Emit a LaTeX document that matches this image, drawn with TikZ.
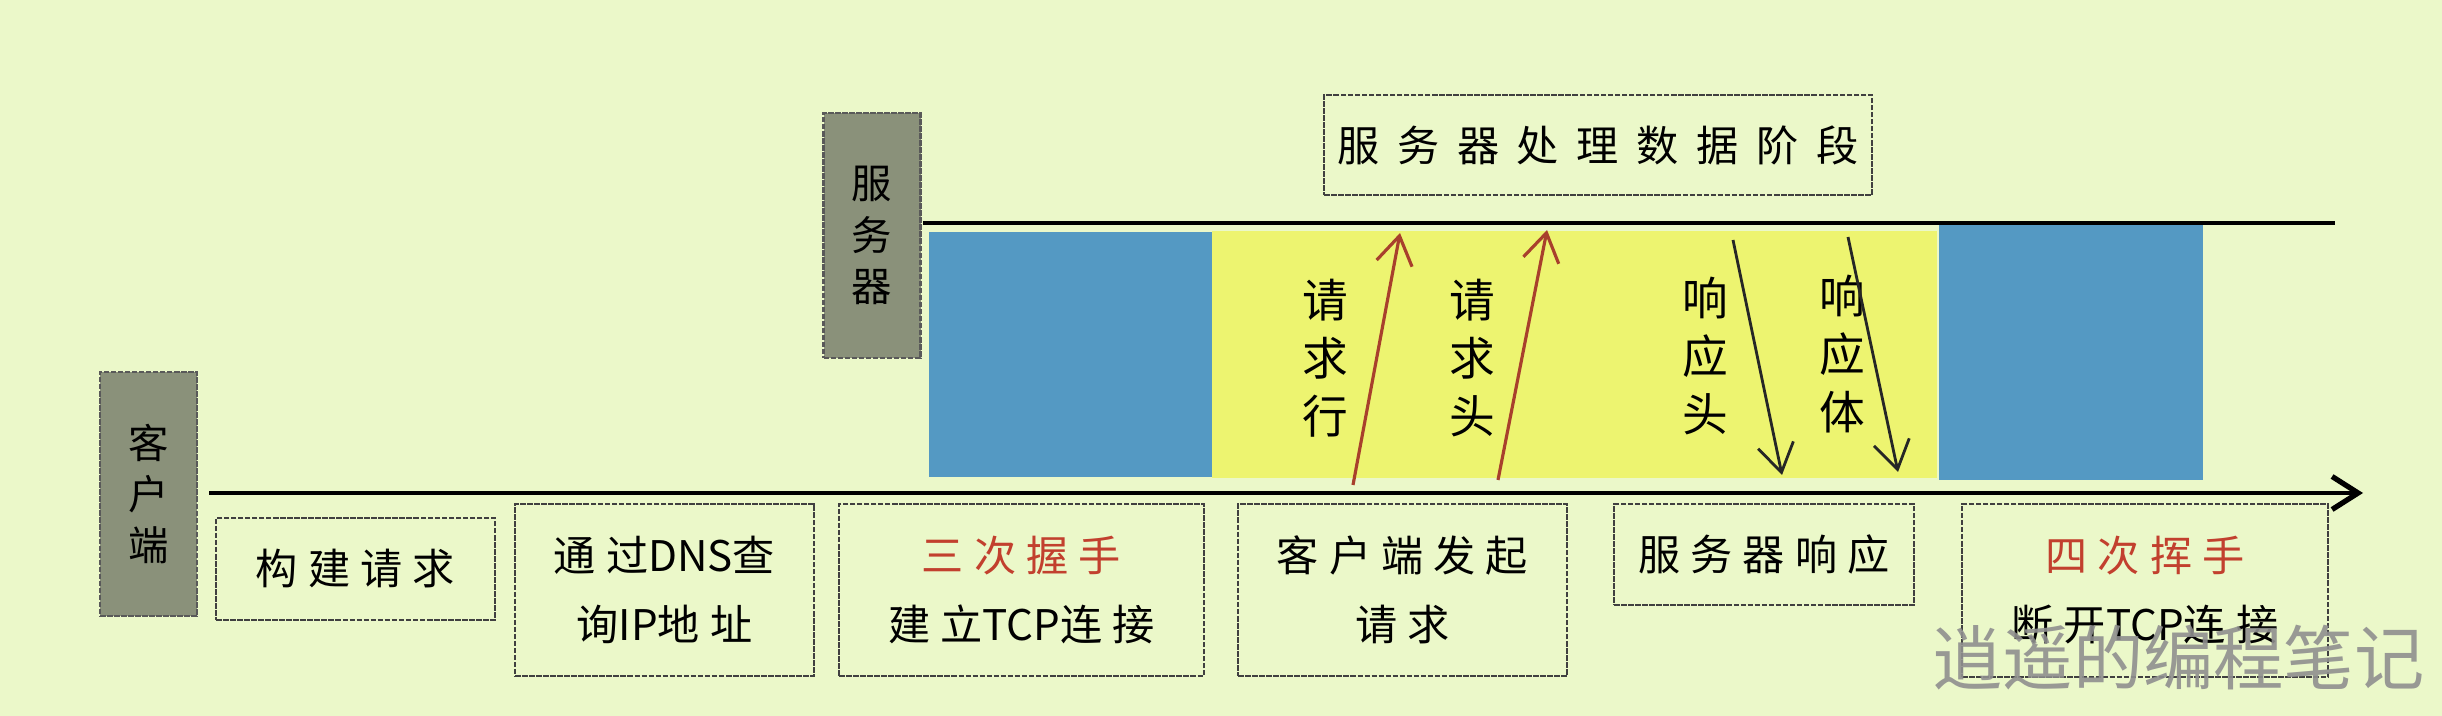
\documentclass[tikz,border=0pt]{standalone}
\usepackage{fontspec}
\setmainfont{Noto Sans CJK SC}
\newfontfamily\boxfont[LetterSpace=24]{Noto Sans CJK SC}
\newfontfamily\wideboxfont[LetterSpace=42]{Noto Sans CJK SC}
\newcommand\asc[1]{{\rmfamily #1}}
\usetikzlibrary{arrows.meta}
\usetikzlibrary{calc}
\usepackage{xcolor}

\definecolor{bgcol}{HTML}{EBF8C9}
\definecolor{rolegray}{HTML}{8A917A}
\definecolor{phaseblue}{HTML}{5499C3}
\definecolor{phaseyellow}{HTML}{EDF470}
\definecolor{redtext}{HTML}{C2402E}
\definecolor{arrowred}{HTML}{A8402C}
\definecolor{markgray}{HTML}{8F8F8F}

\begin{document}
\begin{tikzpicture}[
    stagebox/.style={draw=black!75, line width=0.7pt, dash pattern=on 1.6pt off 0.4pt,
      inner sep=0pt, align=center, font=\boxfont\fontsize{12}{19.6}\selectfont},
    rolebox/.style={draw=black!65, fill=rolegray, line width=0.7pt, dash pattern=on 1.6pt off 0.4pt,
      minimum width=0.97cm, minimum height=2.44cm, inner sep=0pt, align=center,
      font=\fontsize{11.5}{14.6}\selectfont},
    vlabel/.style={align=center, inner sep=0pt, font=\fontsize{13}{16.5}\selectfont},
    mainline/.style={line width=1.2pt},
    reqarrow/.style={draw=arrowred, line width=0.9pt, -{Straight Barb[length=0.28cm,width=0.36cm]}},
    resarrow/.style={draw=black!85, line width=0.8pt, -{Straight Barb[length=0.28cm,width=0.36cm]}}
  ]

        % Background
        \fill[bgcol] (0,0) rectangle (24.42,7.16);
        \useasboundingbox (0,0) rectangle (24.42,7.16);

        % Phases
        \fill[phaseblue] (9.29,2.39) rectangle (12.12,4.84);
        \fill[phaseyellow] (12.12,2.38) rectangle (19.37,4.85);
        \fill[phaseblue] (19.39,2.36) rectangle (22.03,4.92);

        % Roles
        \node[rolebox] (client) at (1.485,2.22) {客\\户\\端};
        \node[rolebox, minimum height=2.45cm] (server) at (8.72,4.805) {服\\务\\器};

        % Time lines
        \coordinate (sstart) at (9.23,4.93);
        \coordinate (send) at (23.35,4.93);
        \coordinate (cstart) at (2.09,2.23);
        \coordinate (cend) at (23.63,2.23);
        \draw[mainline] (sstart) -- (send);
        \draw[mainline, -{Straight Barb[length=0.26cm,width=0.33cm,line width=1.5pt]}] (cstart) -- (cend);

        % Stages
        \node[stagebox, minimum width=2.79cm, minimum height=1.02cm] (build) at (3.555,1.47) {构建请求};
        \node[stagebox, minimum width=2.99cm, minimum height=1.72cm] (dns) at (6.645,1.26) {通过\asc{DNS}查\\询\asc{IP}地址};
        \node[stagebox, minimum width=3.65cm, minimum height=1.72cm] (shake) at (10.215,1.26) {{\color{redtext}三次握手}\\建立\asc{TCP}连接};
        \node[stagebox, minimum width=3.29cm, minimum height=1.72cm] (ask) at (14.025,1.26) {客户端发起\\请求};
        \node[stagebox, minimum width=3.00cm, minimum height=1.01cm] (reply) at (17.64,1.615) {服务器响应};
        \node[stagebox, minimum width=3.66cm, minimum height=1.73cm] (wave) at (21.45,1.255) {{\color{redtext}四次挥手}\\断开\asc{TCP}连接};
        \node[stagebox, font=\wideboxfont\fontsize{12}{19.6}\selectfont, minimum width=5.48cm, minimum height=1.00cm] (process) at (15.98,5.71) {服务器处理数据阶段};

        % Request and response
        \node[vlabel] (reqline) at (13.25,3.58) {请\\求\\行};
        \node[vlabel] (reqhead) at (14.72,3.58) {请\\求\\头};
        \node[vlabel] (reshead) at (17.05,3.60) {响\\应\\头};
        \node[vlabel] (resbody) at (18.42,3.62) {响\\应\\体};
        \coordinate (u1a) at (13.53,2.31);
        \coordinate (u1b) at (14.00,4.83);
        \coordinate (u2a) at (14.98,2.36);
        \coordinate (u2b) at (15.47,4.86);
        \coordinate (d1a) at (17.33,4.76);
        \coordinate (d1b) at (17.82,2.41);
        \coordinate (d2a) at (18.48,4.79);
        \coordinate (d2b) at (18.98,2.44);
        \draw[reqarrow] (u1a) -- (u1b);
        \draw[reqarrow] (u2a) -- (u2b);
        \draw[resarrow] (d1a) -- (d1b);
        \draw[resarrow] (d2a) -- (d2b);

        % Watermark
        \node[font=\fontsize{20}{20}\selectfont, text=markgray, text opacity=0.9, inner sep=0pt] (mark) at (21.785,0.58) {逍遥的编程笔记};
\end{tikzpicture}
\end{document}
